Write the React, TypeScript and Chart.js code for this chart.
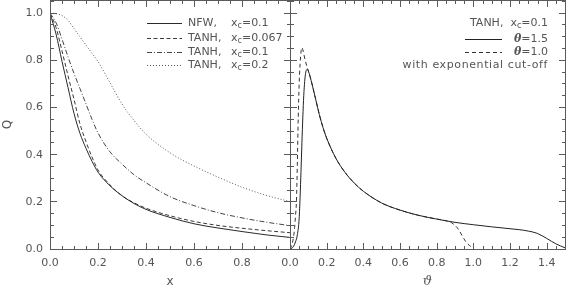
import React, { useEffect, useRef } from 'react';
import { Chart, registerables } from 'chart.js';
Chart.register(...registerables);

// ---------- data ----------
const X_LEFT = [0, 0.025, 0.05, 0.075, 0.1, 0.125, 0.15, 0.175, 0.2, 0.25, 0.3, 0.35, 0.4, 0.5, 0.6, 0.7, 0.8, 0.9, 1.0];
const Q_NFW_01 = [1.0, 0.912, 0.796, 0.685, 0.575, 0.49, 0.427, 0.372, 0.326, 0.268, 0.226, 0.193, 0.168, 0.134, 0.107, 0.089, 0.074, 0.06, 0.049];
const Q_TANH_0067 = [1.0, 0.94, 0.84, 0.735, 0.635, 0.53, 0.455, 0.39, 0.335, 0.272, 0.226, 0.196, 0.173, 0.141, 0.117, 0.1, 0.088, 0.078, 0.069];
const Q_TANH_01 = [1.0, 0.96, 0.89, 0.815, 0.745, 0.68, 0.615, 0.55, 0.492, 0.412, 0.36, 0.315, 0.281, 0.222, 0.184, 0.154, 0.132, 0.114, 0.099];
const Q_TANH_02 = [1.0, 0.998, 0.99, 0.97, 0.935, 0.9, 0.865, 0.83, 0.795, 0.705, 0.615, 0.545, 0.487, 0.408, 0.352, 0.305, 0.262, 0.228, 0.201];

const TH_15 = [0, 0.01, 0.02, 0.03, 0.04, 0.05, 0.055, 0.06, 0.065, 0.07, 0.075, 0.08, 0.085, 0.09, 0.095, 0.1, 0.11, 0.12, 0.14, 0.16, 0.18, 0.2, 0.25, 0.3, 0.35, 0.4, 0.5, 0.6, 0.7, 0.8, 0.9, 1.0, 1.1, 1.2, 1.25, 1.3, 1.35, 1.4, 1.45, 1.5];
const Q_TH_15 = [0, 0.003, 0.012, 0.03, 0.06, 0.13, 0.22, 0.33, 0.45, 0.56, 0.65, 0.71, 0.745, 0.76, 0.762, 0.755, 0.73, 0.70, 0.635, 0.57, 0.515, 0.47, 0.385, 0.325, 0.28, 0.245, 0.195, 0.165, 0.143, 0.127, 0.113, 0.103, 0.094, 0.086, 0.082, 0.076, 0.066, 0.045, 0.022, 0.005];

const TH_10 = [0, 0.01, 0.02, 0.025, 0.03, 0.035, 0.04, 0.045, 0.05, 0.055, 0.06, 0.065, 0.07, 0.08, 0.09, 0.1, 0.11, 0.12, 0.14, 0.16, 0.18, 0.2, 0.25, 0.3, 0.35, 0.4, 0.5, 0.6, 0.7, 0.8, 0.85, 0.88, 0.9, 0.92, 0.94, 0.96, 0.98, 1.0];
const Q_TH_10 = [0, 0.016, 0.055, 0.09, 0.14, 0.2, 0.36, 0.56, 0.70, 0.785, 0.835, 0.854, 0.845, 0.81, 0.78, 0.755, 0.73, 0.70, 0.635, 0.57, 0.515, 0.47, 0.385, 0.325, 0.28, 0.245, 0.195, 0.165, 0.143, 0.127, 0.12, 0.112, 0.1, 0.082, 0.055, 0.03, 0.014, 0.005];

const X_LEFT_TICKS = [0, 0.2, 0.4, 0.6, 0.8];
const X_RIGHT_TICKS = [0, 0.2, 0.4, 0.6, 0.8, 1.0, 1.2, 1.4];
const Y_TICKS = [0, 0.2, 0.4, 0.6, 0.8, 1.0];

// ---------- styles ----------
const FONT = '"DejaVu Sans"';
const TEXT = '#555555';
const FRAME = '#5a5a5a';
const W = 566, H = 288;
const Y_MAX = 1.056;

const pts = (xs: number[], ys: number[]) => xs.map((x, i) => ({ x, y: ys[i] }));

function drawRich(ctx: CanvasRenderingContext2D, parts: { t: string; sub?: boolean; font?: string }[], x: number, y: number, align: 'left' | 'right', spacing = 0) {
  (ctx as any).letterSpacing = `${spacing}px`;
  const fonts = parts.map(p => p.font || (p.sub ? `8px ${FONT}` : `11px ${FONT}`));
  const widths = parts.map((p, i) => { ctx.font = fonts[i]; return ctx.measureText(p.t).width; });
  const total = widths.reduce((a, b) => a + b, 0);
  let cx = align === 'left' ? x : x - total;
  ctx.textAlign = 'left';
  ctx.textBaseline = 'middle';
  parts.forEach((p, i) => {
    ctx.font = fonts[i];
    ctx.fillText(p.t, cx, p.sub ? y + 3 : y);
    cx += widths[i];
  });
  (ctx as any).letterSpacing = '0px';
}

// inward major (0.2) and minor (0.05) ticks on all four sides, plus the frame, drawn as pixel rects
const framePlugin = {
  id: 'qframe',
  afterDraw(chart: any) {
    const { ctx, chartArea: a } = chart;
    const xs = chart.scales.x, ys = chart.scales.y;
    const L = Math.round(a.left);
    const R = Math.min(Math.round(a.right), W - 1);
    const T = Math.round(a.top);
    const B = Math.round(a.bottom);
    ctx.save();
    ctx.fillStyle = FRAME;
    ctx.fillRect(L, T, R - L + 1, 1);
    ctx.fillRect(L, B, R - L + 1, 1);
    ctx.fillRect(L, T, 1, B - T + 1);
    ctx.fillRect(R, T, 1, B - T + 1);
    const nx = Math.round(xs.max / 0.05);
    for (let i = 0; i <= nx; i++) {
      const len = i % 4 === 0 ? 7 : 4;
      const px = Math.min(Math.round(xs.getPixelForValue(i * 0.05)), W - 1);
      ctx.fillRect(px, B - len + 1, 1, len);
      ctx.fillRect(px, T, 1, len);
    }
    for (let i = 0; i <= 21; i++) {
      const len = i % 4 === 0 ? 7 : 4;
      const py = Math.round(ys.getPixelForValue(i * 0.05) - 0.5);
      ctx.fillRect(L, py, len, 1);
      ctx.fillRect(R - len + 1, py, len, 1);
    }
    ctx.restore();
  },
};

const leftLegend = {
  id: 'leftLegend',
  afterDraw(chart: any) {
    const { ctx } = chart;
    const rows = [
      { name: 'NFW,', val: '=0.1', dash: [] as number[], color: '#2a2a2a', y: 23.5 },
      { name: 'TANH,', val: '=0.067', dash: [4, 2.5], color: '#3a3a3a', y: 38.5 },
      { name: 'TANH,', val: '=0.1', dash: [5, 2, 1, 2], color: '#444444', y: 52.5 },
      { name: 'TANH,', val: '=0.2', dash: [1, 2], color: '#555555', y: 65.5 },
    ];
    ctx.save();
    rows.forEach(r => {
      ctx.strokeStyle = r.color;
      ctx.lineWidth = 1;
      ctx.setLineDash(r.dash);
      ctx.beginPath();
      ctx.moveTo(147, r.y); ctx.lineTo(182, r.y);
      ctx.stroke();
      ctx.setLineDash([]);
      ctx.fillStyle = TEXT;
      drawRich(ctx, [{ t: r.name }], 188, r.y - 0.5, 'left');
      drawRich(ctx, [{ t: 'x' }, { t: 'c', sub: true }, { t: r.val }], 231, r.y - 0.5, 'left');
    });
    ctx.restore();
  },
};

const rightLegend = {
  id: 'rightLegend',
  afterDraw(chart: any) {
    const { ctx } = chart;
    ctx.save();
    ctx.fillStyle = TEXT;
    drawRich(ctx, [{ t: 'TANH,  x' }, { t: 'c', sub: true }, { t: '=0.1' }], 548, 23, 'right');
    const th = `italic bold 11px "DejaVu Serif"`;
    drawRich(ctx, [{ t: 'θ', font: th }, { t: '=1.5' }], 548, 39, 'right');
    drawRich(ctx, [{ t: 'θ', font: th }, { t: '=1.0' }], 548, 52, 'right');
    drawRich(ctx, [{ t: 'with exponential cut-off' }], 548, 65, 'right', 0.6);
    ctx.strokeStyle = '#222222';
    ctx.lineWidth = 1;
    ctx.beginPath(); ctx.moveTo(465, 39.5); ctx.lineTo(502, 39.5); ctx.stroke();
    ctx.setLineDash([4, 3]);
    ctx.strokeStyle = '#333333';
    ctx.beginPath(); ctx.moveTo(465, 52.5); ctx.lineTo(502, 52.5); ctx.stroke();
    ctx.restore();
  },
};

const lineDs = (label: string, data: any[], color: string, dash: number[]) => ({
  label, data, borderColor: color, borderWidth: 1, borderDash: dash,
  showLine: true, pointRadius: 0, fill: false, cubicInterpolationMode: 'monotone' as const,
});

const tickFont = { family: FONT, size: 11 };
const fmt = (v: any) => Number(v).toFixed(1);
const noPad = (s: any) => { s.paddingTop = 0; s.paddingBottom = 0; s.paddingLeft = 0; s.paddingRight = 0; };
const border = { display: true, color: FRAME, width: 1 };
// zero-size helper axes that only draw the top / right frame edges natively
const edgeAxis = (position: 'top' | 'right') => ({
  type: 'linear', position, display: true, min: 0, max: 1,
  grid: { display: false, drawTicks: false }, border,
  ticks: { display: false },
  afterFit: (s: any) => { if (position === 'top') s.height = 0; else s.width = 0; noPad(s); },
});

export default function App() {
  const leftRef = useRef<HTMLCanvasElement>(null);
  const rightRef = useRef<HTMLCanvasElement>(null);

  useEffect(() => {
    const left = new Chart(leftRef.current!, {
      type: 'scatter',
      data: {
        datasets: [
          lineDs('NFW, xc=0.1', pts(X_LEFT, Q_NFW_01), '#2a2a2a', []),
          lineDs('TANH, xc=0.067', pts(X_LEFT, Q_TANH_0067), '#3a3a3a', [4, 2.5]),
          lineDs('TANH, xc=0.1', pts(X_LEFT, Q_TANH_01), '#444444', [5, 2, 1, 2]),
          lineDs('TANH, xc=0.2', pts(X_LEFT, Q_TANH_02), '#555555', [1, 2]),
        ],
      },
      options: {
        responsive: false, animation: false, devicePixelRatio: 1,
        layout: { padding: { left: 0, top: 0, right: W - 290, bottom: 0 }, autoPadding: false },
        plugins: { legend: { display: false }, tooltip: { enabled: false } },
        scales: {
          x: {
            type: 'linear', position: 'bottom', min: 0, max: 1,
            grid: { display: false, drawTicks: false }, border,
            afterBuildTicks: (s: any) => { s.ticks = X_LEFT_TICKS.map(v => ({ value: v })); },
            afterFit: (s: any) => { s.height = 39; noPad(s); },
            ticks: { font: tickFont, color: TEXT, padding: 8, maxRotation: 0, autoSkip: false, callback: fmt },
            title: { display: true, text: 'x', font: { family: FONT, size: 12, lineHeight: 1 }, color: TEXT, padding: { top: 0, bottom: 0 } },
          },
          y: {
            type: 'linear', position: 'left', min: 0, max: Y_MAX,
            grid: { display: false, drawTicks: false }, border,
            afterBuildTicks: (s: any) => { s.ticks = Y_TICKS.map(v => ({ value: v })); },
            afterFit: (s: any) => { s.width = 50; noPad(s); },
            ticks: { font: tickFont, color: TEXT, padding: 7, autoSkip: false, callback: fmt },
            title: { display: true, text: 'Q', font: { family: FONT, size: 12, lineHeight: 1 }, color: TEXT, padding: { top: 2, bottom: 0 } },
          },
          xTop: edgeAxis('top'),
          yRight: edgeAxis('right'),
        },
      },
      plugins: [leftLegend, framePlugin],
    } as any);

    const right = new Chart(rightRef.current!, {
      type: 'scatter',
      data: {
        datasets: [
          lineDs('theta=1.5', pts(TH_15, Q_TH_15), '#222222', []),
          lineDs('theta=1.0', pts(TH_10, Q_TH_10), '#333333', [4, 3]),
        ],
      },
      options: {
        responsive: false, animation: false, devicePixelRatio: 1,
        layout: { padding: { left: 290, top: 0, right: 1, bottom: 0 }, autoPadding: false },
        plugins: { legend: { display: false }, tooltip: { enabled: false } },
        scales: {
          x: {
            type: 'linear', position: 'bottom', min: 0, max: 1.5,
            grid: { display: false, drawTicks: false }, border,
            afterBuildTicks: (s: any) => { s.ticks = X_RIGHT_TICKS.map(v => ({ value: v })); },
            afterFit: (s: any) => { s.height = 39; noPad(s); },
            ticks: { font: tickFont, color: TEXT, padding: 8, maxRotation: 0, autoSkip: false, callback: fmt },
            title: { display: true, text: 'ϑ', font: { family: '"DejaVu Serif"', size: 13, style: 'italic', lineHeight: 1 }, color: TEXT, padding: { top: 0, bottom: 0 } },
          },
          y: {
            type: 'linear', position: 'left', display: true, min: 0, max: Y_MAX,
            grid: { display: false, drawTicks: false }, border,
            ticks: { display: false },
            afterFit: (s: any) => { s.width = 0; noPad(s); },
          },
          xTop: edgeAxis('top'),
          yRight: edgeAxis('right'),
        },
      },
      plugins: [rightLegend, framePlugin],
    } as any);

    return () => { left.destroy(); right.destroy(); };
  }, []);

  return (
    <div style={{ position: 'fixed', left: 0, top: 0, width: W, height: H, background: '#ffffff' }}>
      <canvas ref={leftRef} width={W} height={H} style={{ position: 'absolute', left: 0, top: 0 }} />
      <canvas ref={rightRef} width={W} height={H} style={{ position: 'absolute', left: 0, top: 0 }} />
    </div>
  );
}
